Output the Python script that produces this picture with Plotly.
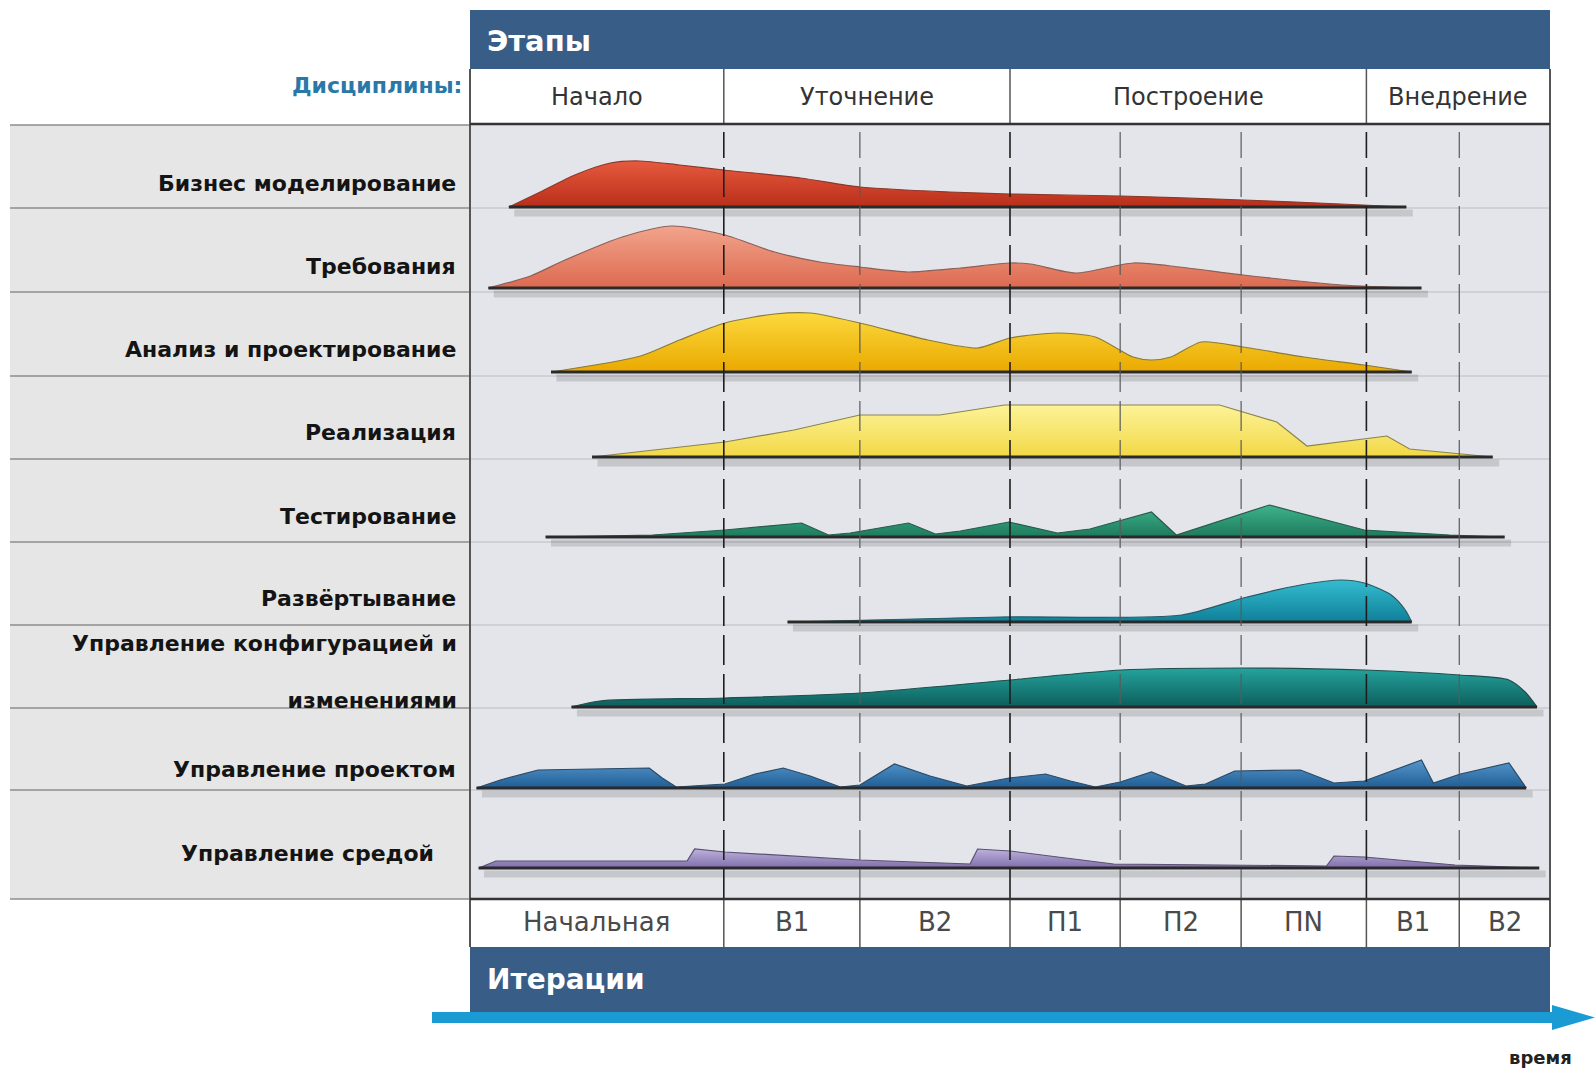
import plotly.graph_objects as go

W, H = 1595, 1068

# ---------------- data ----------------
phases = ["Начало", "Уточнение", "Построение", "Внедрение"]
phase_bounds = [0, 23.5, 50.0, 83.0, 100.0]          # time scale 0..100
iterations = ["Начальная", "В1", "В2", "П1", "П2", "ПN", "В1", "В2"]
iter_bounds = [0, 23.5, 36.1, 50.0, 60.2, 71.4, 83.0, 91.6, 100.0]

disciplines = ["Бизнес моделирование", "Требования", "Анализ и проектирование",
               "Реализация", "Тестирование", "Развёртывание",
               "Управление конфигурацией и<br><br>изменениями",
               "Управление проектом", "Управление средой"]

biz_t = [3.6, 6.5, 9.7, 13.0, 15.7, 19.4, 23.5, 30.6, 36.1, 44.4, 50.0, 60.3, 71.6, 80.6, 86.7]
biz_e = [0, 3.0, 6.4, 8.8, 9.2, 8.4, 7.4, 5.8, 4.0, 3.0, 2.6, 2.2, 1.4, 0.6, 0]

req_t = [1.7, 5.6, 8.8, 14.1, 18.7, 23.6, 28.2, 32.4, 36.1, 40.6, 45.4, 50.0, 51.9, 56.1, 61.4, 65.7, 71.6, 80.7, 88.1]
req_e = [0, 2.4, 5.6, 10.2, 12.4, 10.6, 7.2, 5.2, 4.2, 3.2, 4.0, 5.0, 4.8, 3.0, 5.0, 4.2, 2.6, 0.6, 0]

ana_t = [7.5, 15.8, 19.4, 23.6, 28.2, 31.5, 36.1, 42.4, 47.0, 50.0, 54.4, 57.9, 61.4, 63.1, 64.9, 67.7, 71.6, 77.2, 82.8, 87.2]
ana_e = [0, 3.2, 6.4, 9.8, 11.6, 11.8, 9.8, 6.4, 4.8, 6.8, 7.8, 7.0, 3.0, 2.4, 3.0, 6.0, 5.0, 3.0, 1.4, 0]

imp_t = [11.3, 23.6, 30.0, 36.1, 43.5, 49.5, 69.4, 74.7, 77.5, 82.8, 84.9, 87.0, 91.2, 94.7]
imp_e = [0, 3.0, 5.4, 8.4, 8.4, 10.4, 10.4, 7.0, 2.2, 3.6, 4.2, 1.6, 0.8, 0]

tst_t = [7.0, 16.9, 23.6, 30.7, 33.2, 35.2, 40.6, 43.1, 45.4, 49.9, 54.4, 57.4, 63.1, 65.4, 74.0, 82.8, 90.7, 95.8]
tst_e = [0, 0.4, 1.4, 2.8, 0.4, 0.8, 2.8, 0.6, 1.2, 3.0, 0.8, 1.6, 5.0, 0.4, 6.4, 1.4, 0.4, 0]

dep_t = [29.4, 49.1, 65.9, 71.6, 76.9, 80.7, 82.8, 85.3, 86.6, 87.2]
dep_e = [0, 1.0, 1.4, 4.8, 7.4, 8.4, 7.8, 5.4, 2.4, 0]

cfg_t = [9.4, 12.0, 23.6, 36.1, 50.0, 60.3, 71.6, 82.8, 91.6, 96.2, 97.7, 98.8]
cfg_e = [0, 1.2, 1.8, 2.8, 5.4, 7.4, 7.8, 7.4, 6.4, 5.4, 3.0, 0]

pm_t = [0.6, 2.8, 6.3, 16.6, 17.8, 19.1, 23.6, 26.4, 29.0, 31.5, 34.3, 36.1, 39.3, 42.6, 46.0,
        49.9, 53.3, 55.6, 57.9, 60.2, 63.1, 66.3, 68.1, 70.8, 76.9, 80.0, 82.8, 88.1, 89.2, 91.7, 96.2, 97.8]
pm_e = [0, 1.6, 3.6, 4.0, 2.0, 0.2, 0.8, 2.8, 4.0, 2.4, 0.2, 0.6, 4.8, 2.4, 0.4,
        2.0, 2.8, 1.4, 0.2, 1.2, 3.2, 0.4, 0.8, 3.4, 3.6, 1.0, 1.4, 5.6, 1.0, 2.8, 5.0, 0]

env_t = [0.8, 2.4, 20.1, 20.8, 23.6, 36.1, 46.3, 47.0, 50.0, 59.6, 79.3, 80.0, 82.8, 91.2, 99.0]
env_e = [0, 1.4, 1.4, 3.8, 3.2, 1.6, 0.8, 3.8, 3.4, 0.8, 0.4, 2.4, 2.2, 0.6, 0]

series_t = [biz_t, req_t, ana_t, imp_t, tst_t, dep_t, cfg_t, pm_t, env_t]
series_e = [biz_e, req_e, ana_e, imp_e, tst_e, dep_e, cfg_e, pm_e, env_e]

# ---------------- layout / style ----------------
X0, X1 = 470, 1550          # chart area (px)
Y0, Y1 = 124, 899
row_edges = [125, 208, 292, 376, 459, 542, 625, 708, 790, 899]
baselines = [207, 288, 372, 457, 537, 622, 707, 788, 868]
label_y = [183, 266, 349, 432, 516, 598, 672, 769, 853]
label_x = [458, 458, 458, 458, 458, 458, 459, 458, 436]
EFF_PX = 5.0
smooth = [True, True, True, False, False, True, True, False, False]
colors = [  # (top, bottom, outline)
    ("#e65a3e", "#b92e1a", "#8a3a2c"),
    ("#f2a48c", "#dc6a50", "#8a6058"),
    ("#fcd93c", "#eaa900", "#8a7a3a"),
    ("#fdf398", "#f2d845", "#8a8450"),
    ("#40b38c", "#1c7a5c", "#2a5a4a"),
    ("#34bcd0", "#0f8099", "#2a5a66"),
    ("#25a39d", "#0d5e5c", "#1f4e4c"),
    ("#5598cc", "#1f5d94", "#2a4a66"),
    ("#bdb2dc", "#7f6dab", "#5a5070"),
]
BLUE = "#385d87"
WFONT = "DejaVu Sans, Verdana, sans-serif"


def xp(px):
    return px / W


def yp(py):
    return 1 - py / H


fig = go.Figure()

for i in range(len(disciplines)):
    t = series_t[i]
    e = series_e[i]
    base = baselines[i]
    ys = [base - v * EFF_PX for v in e]
    top, bot, outl = colors[i]
    # shadow
    fig.add_trace(go.Scatter(x=[t[0] + 0.5, t[-1] + 0.6], y=[base + 6, base + 6], mode="lines",
                             line=dict(color="rgba(0,0,0,0.13)", width=7),
                             hoverinfo="skip", showlegend=False))
    # invisible baseline for the fill
    fig.add_trace(go.Scatter(x=[t[0], t[-1]], y=[base, base], mode="lines",
                             line=dict(color="rgba(0,0,0,0)", width=0),
                             hoverinfo="skip", showlegend=False))
    # hump
    fig.add_trace(go.Scatter(
        x=t, y=ys, mode="lines", fill="tonexty",
        line=dict(color=outl, width=1.2, shape="spline" if smooth[i] else "linear",
                  smoothing=0.7),
        fillcolor=bot,
        fillgradient=dict(type="vertical", colorscale=[[0, top], [1, bot]],
                          start=min(ys), stop=base),
        hoverinfo="skip", showlegend=False))
    # dark base line
    fig.add_trace(go.Scatter(x=[t[0], t[-1]], y=[base, base], mode="lines",
                             line=dict(color="#2a2a2a", width=3),
                             hoverinfo="skip", showlegend=False))

shapes = []
# backgrounds
shapes.append(dict(type="rect", xref="paper", yref="paper", x0=xp(X0), x1=xp(X1), y0=yp(Y1), y1=yp(Y0),
                   fillcolor="#e3e5ea", line=dict(width=0), layer="below"))
shapes.append(dict(type="rect", xref="paper", yref="paper", x0=xp(10), x1=xp(X0), y0=yp(Y1), y1=yp(125),
                   fillcolor="#e6e6e6", line=dict(width=0), layer="below"))
# header bands
shapes.append(dict(type="rect", xref="paper", yref="paper", x0=xp(X0), x1=xp(X1), y0=yp(69), y1=yp(10),
                   fillcolor=BLUE, line=dict(width=0), layer="below"))
shapes.append(dict(type="rect", xref="paper", yref="paper", x0=xp(X0), x1=xp(X1), y0=yp(1012), y1=yp(947),
                   fillcolor=BLUE, line=dict(width=0), layer="below"))
# arrow
shapes.append(dict(type="rect", xref="paper", yref="paper", x0=xp(432), x1=xp(1556), y0=yp(1023), y1=yp(1012),
                   fillcolor="#1b9bd4", line=dict(width=0), layer="below"))
shapes.append(dict(type="path", xref="paper", yref="paper",
                   path=f"M {xp(1552)} {yp(1005)} L {xp(1595)} {yp(1017.5)} L {xp(1552)} {yp(1030)} Z",
                   fillcolor="#1b9bd4", line=dict(width=0), layer="below"))
# row lines (left panel + faint in chart area)
for k, ry in enumerate(row_edges):
    shapes.append(dict(type="line", xref="paper", yref="paper", x0=xp(10), x1=xp(X0), y0=yp(ry), y1=yp(ry),
                       line=dict(color="#8c8c8c", width=1.6), layer="below"))
    if 0 < k < len(row_edges) - 1:
        shapes.append(dict(type="line", xref="paper", yref="paper", x0=xp(X0), x1=xp(X1), y0=yp(ry), y1=yp(ry),
                           line=dict(color="#b9bcc3", width=1), layer="below"))
# phase row separators
for b in phase_bounds[1:-1]:
    shapes.append(dict(type="line", xref="x", yref="paper", x0=b, x1=b, y0=yp(124), y1=yp(69),
                       line=dict(color="#555555", width=1.5), layer="above"))
# iteration row separators
for b in iter_bounds[1:-1]:
    shapes.append(dict(type="line", xref="x", yref="paper", x0=b, x1=b, y0=yp(947), y1=yp(899),
                       line=dict(color="#555555", width=1.5), layer="above"))
# dashed iteration lines
for b in iter_bounds[1:-1]:
    strong = b in phase_bounds
    shapes.append(dict(type="line", xref="x", yref="paper", x0=b, x1=b, y0=yp(Y1), y1=yp(Y0 + 8),
                       line=dict(color="#1e1e1e" if strong else "#5a5a5a", width=1.6 if strong else 1.2,
                                 dash="30px,9px"), layer="above"))
# frame
for (xa, ya, xb, yb, c, w) in [
    (X0, 69, X0, 947, "#555555", 2), (X1, 69, X1, 947, "#555555", 2),
    (X0, Y0, X1, Y0, "#333333", 2.5), (X0, Y1, X1, Y1, "#333333", 2.5),
]:
    shapes.append(dict(type="line", xref="paper", yref="paper", x0=xp(xa), x1=xp(xb), y0=yp(ya), y1=yp(yb),
                       line=dict(color=c, width=w), layer="above"))

ann = []
ann.append(dict(text="<b>Этапы</b>", x=xp(485), y=yp(41), xref="paper", yref="paper",
                xanchor="left", yanchor="middle", showarrow=False,
                font=dict(family=WFONT, size=29, color="white")))
ann.append(dict(text="<b>Итерации</b>", x=xp(485), y=yp(979), xref="paper", yref="paper",
                xanchor="left", yanchor="middle", showarrow=False,
                font=dict(family=WFONT, size=28, color="white")))
ann.append(dict(text="<b>Дисциплины:</b>", x=xp(464), y=yp(85), xref="paper", yref="paper",
                xanchor="right", yanchor="middle", showarrow=False,
                font=dict(family=WFONT, size=22, color="#2a78a8")))
ann.append(dict(text="<b>время</b>", x=xp(1540), y=yp(1057), xref="paper", yref="paper",
                xanchor="center", yanchor="middle", showarrow=False,
                font=dict(family=WFONT, size=18, color="#222222")))
for k, p in enumerate(phases):
    ann.append(dict(text=p, x=(phase_bounds[k] + phase_bounds[k + 1]) / 2, y=yp(97), xref="x", yref="paper",
                    xanchor="center", yanchor="middle", showarrow=False,
                    font=dict(family=WFONT, size=24, color="#333333")))
for k, it in enumerate(iterations):
    ann.append(dict(text=it, x=(iter_bounds[k] + iter_bounds[k + 1]) / 2, y=yp(922), xref="x", yref="paper",
                    xanchor="center", yanchor="middle", showarrow=False,
                    font=dict(family=WFONT, size=26, color="#4a4a4a")))
for k, d in enumerate(disciplines):
    txt = "<br>".join(f"<b>{part}</b>" if part else "" for part in d.split("<br>"))
    ann.append(dict(text=txt, x=xp(label_x[k]), y=yp(label_y[k]), xref="paper", yref="paper",
                    xanchor="right", yanchor="middle", align="right", showarrow=False,
                    font=dict(family=WFONT, size=22, color="#141414")))

fig.update_layout(
    width=W, height=H, margin=dict(l=0, r=0, t=0, b=0),
    paper_bgcolor="white", plot_bgcolor="rgba(0,0,0,0)",
    xaxis=dict(domain=[xp(X0), xp(X1)], range=[0, 100], visible=False, fixedrange=True),
    yaxis=dict(domain=[yp(Y1), yp(Y0)], range=[Y1, Y0], visible=False, fixedrange=True),
    shapes=shapes, annotations=ann, showlegend=False,
)

fig.write_html("out.html", config=dict(displayModeBar=False),
               post_script="document.body.style.margin='0';document.body.style.overflow='hidden';")
